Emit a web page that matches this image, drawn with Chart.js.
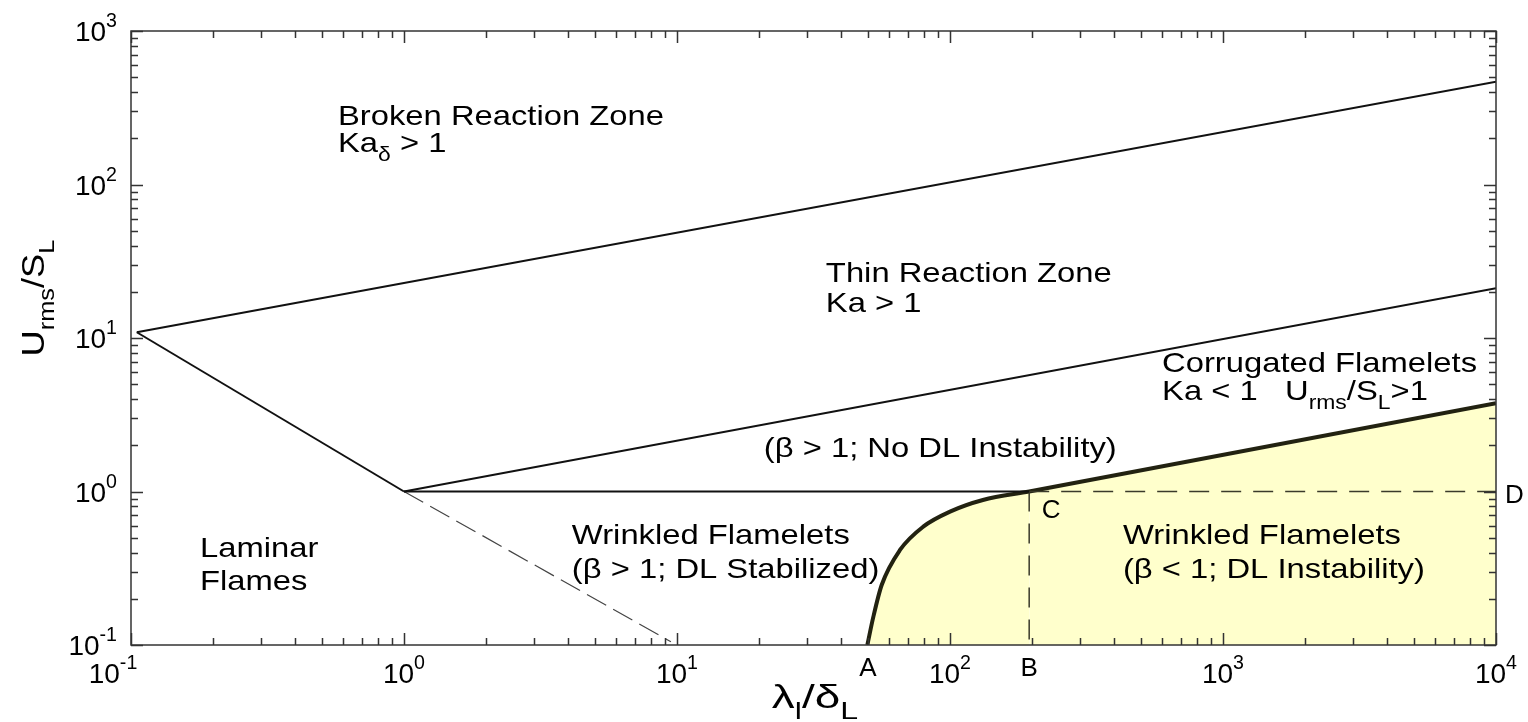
<!DOCTYPE html>
<html>
<head>
<meta charset="utf-8">
<script src="https://cdn.jsdelivr.net/npm/chart.js@4.4.0/dist/chart.umd.min.js"></script>
<style>
  html, body { margin: 0; padding: 0; background: #fff; }
</style>
</head>
<body>
<canvas id="regime_chart" width="1528" height="722"></canvas>
<script>
// premixed combustion regime diagram: Urms/SL against integral scale / flame thickness

// axis decades (tick labels are 10^n)
let xDecades = [-1, 0, 1, 2, 3, 4];
let yDecades = [-1, 0, 1, 2, 3];

// Ka_delta = 1 boundary
let brokenX = [0.105, 10000];
let brokenY = [10.9, 468];
// Ka = 1 boundary
let thinX = [1.0, 10000];
let thinY = [1.0, 21.1];
// laminar limit, solid then dashed below Urms/SL = 1
let laminarX = [0.105, 1.0];
let laminarY = [10.9, 1.0];
let laminarDashX = [1.0, 9.5];
let laminarDashY = [1.0, 0.105];
// Urms/SL = 1 up to point C
let unityX = [1.0, 195];
let unityY = [1.0, 1.0];
// DL instability boundary, A -> C, then C -> right edge
let dlCurveX = [49.8, 52.4, 56.2, 65.6, 79.8, 100, 132, 195];
let dlCurveY = [0.1, 0.153, 0.246, 0.416, 0.59, 0.739, 0.88, 1.0];
let dlLineX = [195, 10000];
let dlLineY = [1.0, 3.76];
// dashed guides C-D and C-B
let cdX = [195, 10000];
let cdY = [1.0, 1.0];
let cbX = [195, 195];
let cbY = [1.0, 0.1];

// marked points on the axes
let pointA = 50;
let pointB = 195;
let pointD = 1.0;

// region labels, anchored at (x, y) in data units
let regionText = ["Broken Reaction Zone", "Ka_{δ} > 1", "Thin Reaction Zone", "Ka > 1",
    "Corrugated Flamelets", "Ka < 1   U_{rms}/S_{L}>1", "(β > 1; No DL Instability)",
    "Wrinkled Flamelets", "(β > 1; DL Stabilized)", "Laminar", "Flames",
    "Wrinkled Flamelets", "(β < 1; DL Instability)", "C"];
let regionX = [0.573, 0.573, 35.1, 35.1, 598, 598, 20.8, 4.12, 4.12, 0.179, 0.179, 430, 430, 217];
let regionY = [244, 163, 23.2, 14.8, 6.01, 3.95, 1.68, 0.455, 0.273, 0.374, 0.228, 0.455, 0.273, 0.671];

const FONT = '"Liberation Sans", Arial, Helvetica, sans-serif';
const WIDE = 1.17;   // labels are set a little wide

function pts(xs, ys) {
    return xs.map(function (x, i) { return {x: x, y: ys[i]}; });
}

// "a_{b}" -> subscript, "a^{b}" -> superscript
function parseRich(s) {
    let parts = [];
    let re = /([_^])\{([^}]*)\}/g;
    let last = 0, m;
    while ((m = re.exec(s))) {
        if (m.index > last) parts.push({t: s.slice(last, m.index)});
        parts.push({t: m[2], sub: m[1] == "_", sup: m[1] == "^"});
        last = re.lastIndex;
    }
    if (last < s.length) parts.push({t: s.slice(last)});
    return parts;
}

function richWidth(ctx, s, size, sx) {
    let w = 0;
    parseRich(s).forEach(function (p) {
        ctx.font = ((p.sub || p.sup) ? size * 0.7 : size) + "px " + FONT;
        w += ctx.measureText(p.t).width;
    });
    return w * (sx || 1);
}

function drawRich(ctx, s, x, y, size, sx) {
    ctx.save();
    ctx.translate(x, y);
    ctx.scale(sx || 1, 1);
    let cx = 0;
    parseRich(s).forEach(function (p) {
        ctx.font = ((p.sub || p.sup) ? size * 0.7 : size) + "px " + FONT;
        let dy = p.sub ? size * 0.32 : (p.sup ? -size * 0.5 : 0);
        ctx.fillText(p.t, cx, dy);
        cx += ctx.measureText(p.t).width;
    });
    ctx.restore();
}

const regimeDecor = {
    id: "regimeDecor",
    afterDatasetsDraw(chart) {
        let ctx = chart.ctx;
        let xs = chart.scales.x, ys = chart.scales.y;
        let a = chart.chartArea;
        ctx.save();
        ctx.strokeStyle = "#333";
        ctx.lineWidth = 1.5;

        // inward ticks on all four sides
        ctx.beginPath();
        xDecades.forEach(function (d) {
            for (let k = 1; k <= 9; k++) {
                let v = k * Math.pow(10, d);
                if (v > xs.max * 1.0001) break;
                let px = Math.round(xs.getPixelForValue(v)) + 0.5;
                let len = k == 1 ? 12 : 7;
                ctx.moveTo(px, a.bottom); ctx.lineTo(px, a.bottom - len);
                ctx.moveTo(px, a.top); ctx.lineTo(px, a.top + len);
            }
        });
        yDecades.forEach(function (d) {
            for (let k = 1; k <= 9; k++) {
                let v = k * Math.pow(10, d);
                if (v > ys.max * 1.0001) break;
                let py = Math.round(ys.getPixelForValue(v)) + 0.5;
                let len = k == 1 ? 12 : 7;
                ctx.moveTo(a.left, py); ctx.lineTo(a.left + len, py);
                ctx.moveTo(a.right, py); ctx.lineTo(a.right - len, py);
            }
        });
        ctx.stroke();
        ctx.strokeRect(a.left, a.top, a.right - a.left, a.bottom - a.top);

        // tick labels
        ctx.fillStyle = "#000";
        ctx.textBaseline = "alphabetic";
        ctx.textAlign = "left";
        let fs = 28;
        xDecades.forEach(function (d) {
            let s = "10^{" + d + "}";
            let w = richWidth(ctx, s, fs);
            let px = xs.getPixelForValue(Math.pow(10, d));
            drawRich(ctx, s, px - w / 2 - (d < 0 ? 18 : 0), a.bottom + 38, fs);
        });
        yDecades.forEach(function (d) {
            let s = "10^{" + d + "}";
            let w = richWidth(ctx, s, fs);
            let py = ys.getPixelForValue(Math.pow(10, d));
            drawRich(ctx, s, a.left - 14 - w, py + 10, fs);
        });

        // A, B under the x axis, D right of the frame
        ctx.font = "26px " + FONT;
        ctx.textAlign = "center";
        ctx.fillText("A", xs.getPixelForValue(pointA), a.bottom + 31);
        ctx.fillText("B", xs.getPixelForValue(pointB), a.bottom + 31);
        ctx.textAlign = "left";
        ctx.fillText("D", a.right + 9, ys.getPixelForValue(pointD) + 11);

        // axis titles
        let xt = "λ_{l}/δ_{L}";
        let xw = richWidth(ctx, xt, 34, 1.35);
        drawRich(ctx, xt, 815 - xw / 2, 708, 34, 1.35);

        let yt = "U_{rms}/S_{L}";
        let yw = richWidth(ctx, yt, 31, WIDE);
        ctx.save();
        ctx.translate(44, 298);
        ctx.rotate(-Math.PI / 2);
        drawRich(ctx, yt, -yw / 2, 0, 31, WIDE);
        ctx.restore();

        // region labels
        regionText.forEach(function (s, i) {
            let px = xs.getPixelForValue(regionX[i]);
            let py = ys.getPixelForValue(regionY[i]);
            if (s == "C") drawRich(ctx, s, px, py, 26);
            else drawRich(ctx, s, px, py, 28, WIDE);
        });
        ctx.restore();
    }
};

function line(xs, ys, extra) {
    let ds = {
        data: pts(xs, ys),
        showLine: true,
        pointRadius: 0,
        borderColor: "#111",
        borderWidth: 2,
        fill: false,
        order: 0
    };
    return Object.assign(ds, extra || {});
}

new Chart("regime_chart", {
    type: "scatter",
    data: {
        datasets: [
            line(dlCurveX, dlCurveY, {borderColor: "#222211", borderWidth: 4, fill: "start",
                backgroundColor: "#ffffcc", cubicInterpolationMode: "monotone", order: 10}),
            line(dlLineX, dlLineY, {borderColor: "#222211", borderWidth: 4, fill: "start",
                backgroundColor: "#ffffcc", order: 10}),
            line(brokenX, brokenY),
            line(thinX, thinY),
            line(laminarX, laminarY),
            line(unityX, unityY),
            line(laminarDashX, laminarDashY, {borderColor: "#444", borderWidth: 1.2, borderDash: [22, 8]}),
            line(cdX, cdY, {borderColor: "#3a3a2a", borderWidth: 1.5, borderDash: [20, 12]}),
            line(cbX, cbY, {borderColor: "#3a3a2a", borderWidth: 1.5, borderDash: [20, 12]})
        ]
    },
    options: {
        responsive: false,
        animation: false,
        layout: {padding: {left: 131, right: 32, top: 31, bottom: 77}},
        plugins: {legend: {display: false}, tooltip: {enabled: false}},
        scales: {
            x: {type: "logarithmic", min: 0.1, max: 10000, display: false},
            y: {type: "logarithmic", min: 0.1, max: 1000, display: false}
        }
    },
    plugins: [regimeDecor]
});
</script>
</body>
</html>
